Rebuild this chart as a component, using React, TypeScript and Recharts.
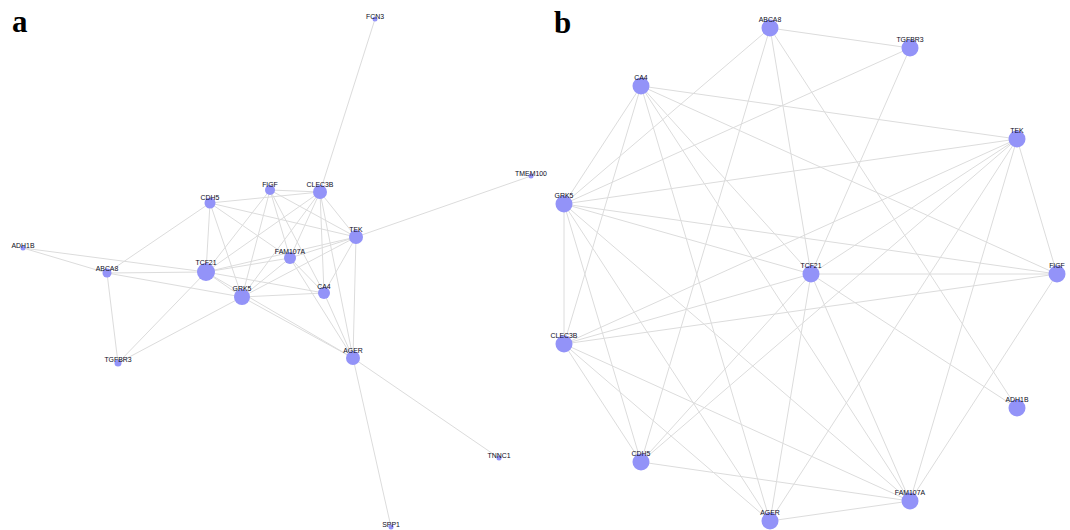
import React from "react";
import { ScatterChart, Scatter, XAxis, YAxis } from "recharts";

// ---------- Panel a: full PPI network (positions) ----------
const nodesA = [
  { id: "FCN3", x: 375, y: 19, r: 2.5 },
  { id: "TMEM100", x: 531, y: 176, r: 2.5 },
  { id: "ADH1B", x: 23, y: 248, r: 2.5 },
  { id: "ABCA8", x: 107, y: 273, r: 4.5 },
  { id: "TGFBR3", x: 118, y: 363, r: 3.5 },
  { id: "CDH5", x: 210, y: 203, r: 5.5 },
  { id: "FIGF", x: 270, y: 190, r: 5 },
  { id: "CLEC3B", x: 320, y: 192, r: 7 },
  { id: "TEK", x: 356, y: 237, r: 7 },
  { id: "FAM107A", x: 290, y: 258, r: 6 },
  { id: "TCF21", x: 206, y: 272, r: 9 },
  { id: "GRK5", x: 242, y: 297, r: 8 },
  { id: "CA4", x: 324, y: 293, r: 6 },
  { id: "AGER", x: 353, y: 358, r: 7 },
  { id: "TNNC1", x: 499, y: 458, r: 2.5 },
  { id: "SPP1", x: 391, y: 527, r: 2.5 },
];

// ---------- Panel b: hub-gene sub-network (circle layout) ----------
const nodesB = [
  { id: "ABCA8", x: 770, y: 28, r: 8.5 },
  { id: "TGFBR3", x: 910, y: 48, r: 8.5 },
  { id: "TEK", x: 1017, y: 139, r: 8.5 },
  { id: "FIGF", x: 1057, y: 274, r: 8.5 },
  { id: "ADH1B", x: 1017, y: 408, r: 8.5 },
  { id: "FAM107A", x: 910, y: 501, r: 8.5 },
  { id: "AGER", x: 770, y: 521, r: 8.5 },
  { id: "CDH5", x: 641, y: 462, r: 8.5 },
  { id: "CLEC3B", x: 564, y: 344, r: 8.5 },
  { id: "GRK5", x: 564, y: 204, r: 8.5 },
  { id: "CA4", x: 641, y: 86, r: 8.5 },
  { id: "TCF21", x: 811, y: 274, r: 8.5 },
];

// Interactions among hub genes (shared by both panels)
const coreEdges: [string, string][] = [
  ["ABCA8", "TGFBR3"], ["ABCA8", "GRK5"], ["ABCA8", "CDH5"], ["ABCA8", "TCF21"], ["ABCA8", "ADH1B"],
  ["TGFBR3", "GRK5"], ["TGFBR3", "TCF21"],
  ["CA4", "TEK"], ["CA4", "FIGF"], ["CA4", "AGER"], ["CA4", "CLEC3B"], ["CA4", "GRK5"], ["CA4", "TCF21"], ["CA4", "FAM107A"],
  ["GRK5", "TEK"], ["GRK5", "FIGF"], ["GRK5", "TCF21"], ["GRK5", "CLEC3B"], ["GRK5", "CDH5"], ["GRK5", "AGER"], ["GRK5", "FAM107A"],
  ["TEK", "CLEC3B"], ["TEK", "CDH5"], ["TEK", "TCF21"], ["TEK", "AGER"], ["TEK", "FAM107A"], ["TEK", "FIGF"],
  ["FIGF", "TCF21"], ["FIGF", "CLEC3B"], ["FIGF", "FAM107A"],
  ["TCF21", "ADH1B"], ["TCF21", "CLEC3B"], ["TCF21", "CDH5"], ["TCF21", "AGER"], ["TCF21", "FAM107A"],
  ["CLEC3B", "CDH5"], ["CLEC3B", "AGER"], ["CLEC3B", "FAM107A"],
  ["CDH5", "FAM107A"], ["AGER", "FAM107A"],
];

// Extra interactions only in panel a
const extraEdgesA: [string, string][] = [
  ["FCN3", "CLEC3B"], ["TMEM100", "TEK"], ["AGER", "SPP1"], ["AGER", "TNNC1"],
];

const panelLetters = [
  { id: "a", x: 12, y: 32 },
  { id: "b", x: 554, y: 33 },
];

const W = 1070;
const H = 530;
const NODE = "#9393f8";
const EDGE = "#dcdcdc";

type N = { id: string; x: number; y: number; r: number };

const NodeShape = (props: any) => {
  const { cx, cy, payload } = props;
  if (cx == null || cy == null) return <g />;
  const r = payload.r as number;
  return (
    <g>
      <circle cx={cx} cy={cy} r={r} fill={NODE} />
      <text
        x={cx}
        y={cy - r + 2.4}
        textAnchor="middle"
        fontFamily="'Liberation Sans', Arial, sans-serif"
        fontSize={6.9}
        fill="#0a0a1a"
      >
        {payload.id}
      </text>
    </g>
  );
};

const Empty = () => <g />;

function edgeData(nodes: N[], edges: [string, string][]) {
  const map: Record<string, N> = {};
  nodes.forEach((n) => (map[n.id] = n));
  return edges
    .filter(([a, b]) => map[a] && map[b])
    .map(([a, b]) => [
      { x: map[a].x, y: map[a].y },
      { x: map[b].x, y: map[b].y },
    ]);
}

const LetterShape = (props: any) => {
  const { cx, cy, payload } = props;
  if (cx == null) return <g />;
  return (
    <text
      x={cx}
      y={cy}
      fontFamily="'Liberation Serif', 'Times New Roman', serif"
      fontWeight="bold"
      fontSize={31}
      fill="#000"
    >
      {payload.id}
    </text>
  );
};

export default function App() {
  const edgesA = edgeData(nodesA, [...coreEdges, ...extraEdgesA]);
  const edgesB = edgeData(nodesB, coreEdges);
  return (
    <div style={{ position: "absolute", left: 0, top: 0, width: W, height: H, background: "#fff" }}>
      <ScatterChart width={W} height={H} margin={{ top: 0, right: 0, bottom: 0, left: 0 }}>
        <XAxis type="number" dataKey="x" domain={[0, W]} hide />
        <YAxis type="number" dataKey="y" domain={[0, H]} reversed hide />
        {edgesA.map((d, i) => (
          <Scatter
            key={"ea" + i}
            data={d}
            line={{ stroke: EDGE, strokeWidth: 1 }}
            shape={Empty}
            isAnimationActive={false}
            legendType="none"
          />
        ))}
        {edgesB.map((d, i) => (
          <Scatter
            key={"eb" + i}
            data={d}
            line={{ stroke: EDGE, strokeWidth: 1 }}
            shape={Empty}
            isAnimationActive={false}
            legendType="none"
          />
        ))}
        <Scatter data={nodesA} shape={NodeShape} isAnimationActive={false} legendType="none" />
        <Scatter data={nodesB} shape={NodeShape} isAnimationActive={false} legendType="none" />
        <Scatter data={panelLetters} shape={LetterShape} isAnimationActive={false} legendType="none" />
      </ScatterChart>
    </div>
  );
}
